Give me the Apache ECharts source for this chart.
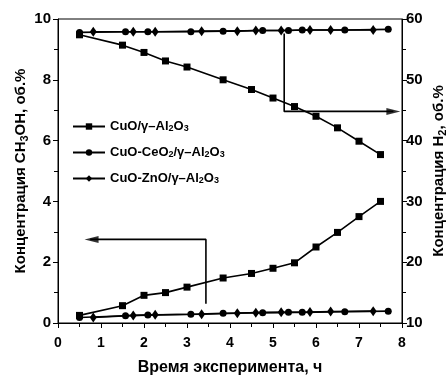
<!DOCTYPE html>
<html><head><meta charset="utf-8">
<script src="https://cdn.jsdelivr.net/npm/echarts@6/dist/echarts.min.js"></script>
<style>html,body{margin:0;padding:0;background:#fff}#c{width:446px;height:376px}</style>
</head><body><div id="c"></div>
<script>
// Data
var seriesNames = ['CuO/γ–Al2O3', 'CuO-CeO2/γ–Al2O3', 'CuO-ZnO/γ–Al2O3'];
var timeCuO = [0.5, 1.5, 2.0, 2.5, 3.0, 3.84, 4.5, 5.0, 5.5, 6.0, 6.5, 7.0, 7.5];
var ch3ohCuO = [0.25, 0.57, 0.91, 1.0, 1.18, 1.48, 1.63, 1.8, 1.98, 2.5, 2.98, 3.5, 4.0];
var h2CuO = [57.4, 55.7, 54.5, 53.1, 52.1, 50.0, 48.4, 47.0, 45.6, 44.0, 42.1, 39.9, 37.7];
var timeCe = [0.5, 1.57, 2.09, 3.09, 3.84, 4.76, 5.36, 5.68, 6.67, 7.68];
var ch3ohCe = [0.18, 0.24, 0.26, 0.29, 0.32, 0.34, 0.35, 0.35, 0.37, 0.39];
var h2Ce = [57.8, 57.9, 57.9, 57.9, 58.0, 58.1, 58.1, 58.2, 58.2, 58.3];
var timeZn = [0.82, 1.75, 2.26, 3.34, 4.17, 4.6, 5.19, 5.86, 6.34, 7.33];
var ch3ohZn = [0.18, 0.25, 0.27, 0.29, 0.32, 0.34, 0.35, 0.36, 0.38, 0.39];
var h2Zn = [57.9, 57.9, 57.9, 58.0, 58.0, 58.1, 58.1, 58.2, 58.2, 58.2];
// Annotation arrows (x, y in data units): polyline path, arrowhead centre
var arrowCH3OH = [[3.44, 0.63], [3.44, 2.75], [0.75, 2.75]];
var arrowCH3OHHead = [[0.78, 2.75]];
var arrowH2 = [[5.26, 57.6], [5.26, 44.8], [7.8, 44.8]];
var arrowH2Head = [[7.8, 44.8]];

var FONT = '"Liberation Sans", Arial, sans-serif';
function zip(xs, ys) { return xs.map(function (x, i) { return [x, ys[i]]; }); }
var legendRich = {
  'CuO/γ–Al2O3': 'CuO/γ–Al{s|2}O{s|3}',
  'CuO-CeO2/γ–Al2O3': 'CuO-CeO{s|2}/γ–Al{s|2}O{s|3}',
  'CuO-ZnO/γ–Al2O3': 'CuO-ZnO/γ–Al{s|2}O{s|3}'
};
var symbols = ['rect', 'circle', 'diamond'];
var symSizes = [7, 7, [7, 10]];
var times = [timeCuO, timeCe, timeZn];
var chVals = [ch3ohCuO, ch3ohCe, ch3ohZn];
var h2Vals = [h2CuO, h2Ce, h2Zn];

var series = [];
for (var i = 0; i < 3; i++) {
  [[chVals[i], 0], [h2Vals[i], 1]].forEach(function (p) {
    series.push({
      type: 'line', name: seriesNames[i], yAxisIndex: p[1],
      data: zip(times[i], p[0]),
      symbol: symbols[i], symbolSize: symSizes[i],
      lineStyle: { color: '#000', width: 1.6 },
      itemStyle: { color: '#000' },
      animation: false
    });
  });
}
[[arrowCH3OH, 0], [arrowH2, 1]].forEach(function (a) {
  series.push({
    type: 'line', yAxisIndex: a[1], data: a[0], symbol: 'none',
    lineStyle: { color: '#000', width: 1.6 }, silent: true, animation: false, z: 1
  });
});
[[arrowCH3OHHead, 0, 90], [arrowH2Head, 1, -90]].forEach(function (a) {
  series.push({
    type: 'scatter', yAxisIndex: a[1], data: a[0], symbol: 'triangle',
    symbolSize: [7, 14], symbolRotate: a[2],
    itemStyle: { color: '#000' }, silent: true, animation: false, z: 3
  });
});

var nameRich = {
  a: { fontSize: 15, fontWeight: 'bold', fontFamily: FONT, color: '#000', lineHeight: 18 },
  s: { fontSize: 11, fontWeight: 'bold', fontFamily: FONT, color: '#000', lineHeight: 11, padding: [9, 0, 0, 0], verticalAlign: 'bottom' }
};
var yLabel = { color: '#000', fontSize: 15, fontWeight: 'bold', fontFamily: FONT };

var chart = echarts.init(document.getElementById('c'), null, { renderer: 'canvas' });
chart.setOption({
  backgroundColor: '#fff',
  animation: false,
  grid: { left: 58, right: 44, top: 19, bottom: 53, outerBoundsMode: 'none', containLabel: false, show: true, borderColor: '#000', borderWidth: 1, backgroundColor: 'transparent' },
  legend: {
    orient: 'vertical', left: 67, top: 112, itemGap: 10, itemWidth: 32, itemHeight: 8,
    data: seriesNames,
    formatter: function (n) { return legendRich[n]; },
    textStyle: {
      rich: {
        s: { fontSize: 9, fontWeight: 'bold', fontFamily: FONT, color: '#000', padding: [7, 0, 0, 0], verticalAlign: 'bottom', lineHeight: 9 }
      },
      fontSize: 13, fontWeight: 'bold', fontFamily: FONT, color: '#000'
    }
  },
  xAxis: {
    type: 'value', min: 0, max: 8, interval: 1,
    name: 'Время эксперимента, ч', nameLocation: 'middle', nameGap: 37, nameMoveOverlap: false,
    nameTextStyle: { fontSize: 16, fontWeight: 'bold', fontFamily: FONT, color: '#000' },
    axisLine: { lineStyle: { color: '#000', width: 1 } },
    axisTick: { show: true, inside: false, length: 5, lineStyle: { color: '#000' } },
    minorTick: { show: true, splitNumber: 2, length: 4, lineStyle: { color: '#000' } },
    splitLine: { show: false },
    axisLabel: { margin: 13, color: '#000', fontSize: 14, fontWeight: 'bold', fontFamily: FONT }
  },
  yAxis: [{
    type: 'value', min: 0, max: 10, interval: 2, position: 'left',
    name: '{a|Концентрация CH}{s|3}{a|OH, об.%}', nameLocation: 'middle', nameGap: 28, nameMoveOverlap: false,
    nameTextStyle: { rich: nameRich },
    axisLine: { show: true, lineStyle: { color: '#000', width: 1 } },
    axisTick: { show: true, length: 5, lineStyle: { color: '#000' } },
    minorTick: { show: true, splitNumber: 2, length: 4, lineStyle: { color: '#000' } },
    splitLine: { show: false },
    axisLabel: Object.assign({ margin: 7 }, yLabel)
  }, {
    type: 'value', min: 10, max: 60, interval: 10, position: 'right',
    name: '{a|Концентрация H}{s|2}{a|, об.%}', nameLocation: 'middle', nameGap: 28, nameMoveOverlap: false,
    nameTextStyle: { rich: nameRich },
    axisLine: { show: true, lineStyle: { color: '#000', width: 1 } },
    axisTick: { show: true, length: 5, lineStyle: { color: '#000' } },
    minorTick: { show: true, splitNumber: 2, length: 4, lineStyle: { color: '#000' } },
    splitLine: { show: false },
    axisLabel: Object.assign({ margin: 4 }, yLabel)
  }],
  series: series
});
</script></body></html>
